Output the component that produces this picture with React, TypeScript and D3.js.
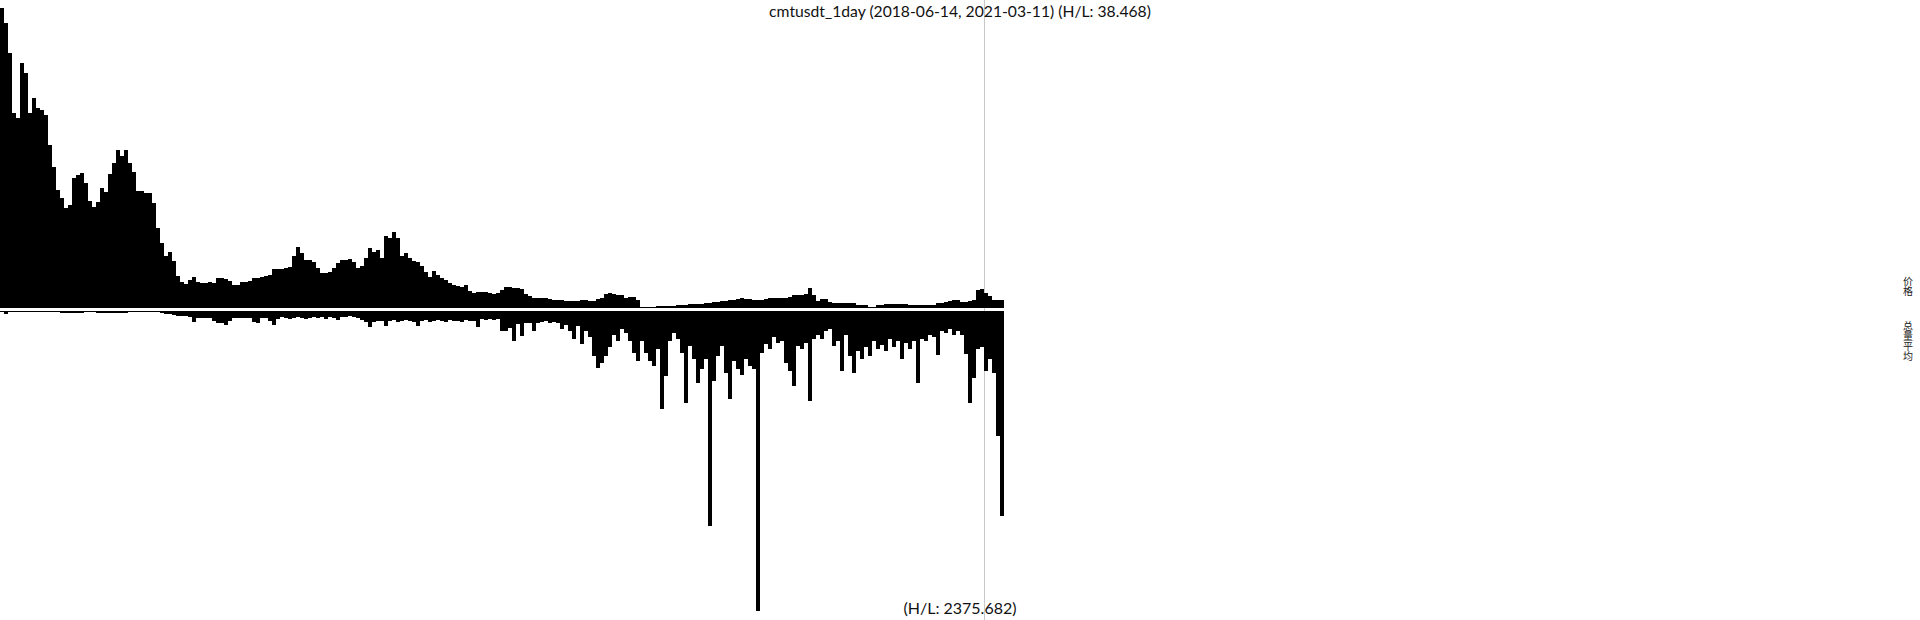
import React, { Component } from 'react';
import * as d3 from 'd3';

const titleText = 'cmtusdt_1day (2018-06-14, 2021-03-11) (H/L: 38.468)';
const volumeText = '(H/L: 2375.682)';
const priceLabel = '价格';
const volumeLabel = '总量平均';

const price = [
  300, 285, 255, 195, 190, 245, 235, 195, 210, 200,
  198, 193, 163, 141, 118, 110, 100, 103, 130, 133,
  135, 125, 107, 101, 106, 120, 116, 134, 145, 158,
  152, 158, 145, 136, 117, 117, 115, 115, 105, 80,
  65, 52, 56, 47, 32, 26, 24, 28, 31, 26,
  25, 25, 26, 25, 30, 30, 29, 27, 23, 23,
  26, 26, 27, 30, 30, 31, 32, 33, 39, 39,
  39, 40, 41, 52, 61, 55, 48, 48, 46, 40,
  35, 35, 36, 40, 45, 48, 48, 49, 46, 40,
  42, 50, 60, 56, 58, 50, 72, 70, 76, 70,
  52, 55, 50, 47, 46, 42, 36, 31, 37, 33,
  30, 28, 25, 23, 22, 21, 23, 17, 15, 16,
  16, 16, 15, 14, 15, 18, 21, 21, 20, 20,
  19, 14, 12, 10, 10, 10, 10, 9, 8, 8,
  8, 7, 7, 7, 7, 8, 8, 7, 7, 9,
  10, 14, 15, 14, 13, 13, 10, 11, 11, 8,
  1, 1, 1.5, 1.5, 2, 2, 2, 2.5, 2.5, 3,
  3, 3.5, 4, 4, 4, 4.5, 5, 5.5, 6, 6.5,
  7, 7, 8, 8, 9, 10, 9, 9, 8, 8,
  8, 9, 10, 10, 10, 10, 10, 11, 13, 13,
  13, 14, 20, 13, 7, 9, 9, 6, 5, 5,
  5, 5, 5, 5, 3.5, 3, 3, 1.5, 1.5, 3,
  3.5, 4, 4, 4, 4, 4, 4, 3.5, 3, 3,
  3, 3, 3, 3, 5, 5, 6, 7, 8, 8,
  6, 6, 7, 8, 18, 19, 15, 12, 8, 8,
  8
];

const volume = [
  1, 2.5, 1, 1, 1, 1, 1, 1, 1, 1,
  1, 1, 1, 1, 1, 2, 1.5, 2, 1.5, 2,
  1.5, 1, 1, 1, 2, 2, 1.5, 2, 2, 1.5,
  2, 2, 1, 1, 1, 1, 1, 1, 1, 1,
  2, 3, 3, 3.5, 4.5, 4.5, 4.5, 6, 11, 7,
  6.5, 6.5, 6.5, 10, 12, 12, 14, 10, 7, 7,
  7, 7, 7, 11, 12, 7, 7, 10, 14, 8,
  6, 7, 8, 7, 6, 7, 8, 6.5, 6, 7,
  6, 8, 6, 7, 9, 5.5, 6, 5, 6, 6.5,
  9, 11, 16, 11, 10, 10, 15, 10, 9, 11,
  10, 9, 10, 11, 15, 10, 9, 11, 10, 9,
  10, 11, 9, 10, 10, 11, 9, 10, 10, 16,
  8, 9, 8, 9, 8, 20, 20, 17, 30, 13,
  25, 12, 12, 20, 12, 11, 10, 12, 11, 12,
  18, 14, 20, 28, 15, 33, 20, 26, 45, 57,
  52, 45, 36, 24, 30, 18, 22, 30, 42, 50,
  30, 42, 50, 55, 38, 98, 65, 30, 22, 28,
  42, 92, 35, 48, 72, 58, 48, 215, 70, 45,
  35, 62, 88, 50, 58, 64, 48, 55, 58, 300,
  42, 33, 38, 26, 32, 30, 52, 60, 75, 35,
  38, 32, 90, 28, 24, 28, 20, 18, 35, 30,
  60, 24, 45, 62, 40, 48, 36, 45, 30, 38,
  34, 40, 28, 36, 30, 48, 32, 38, 30, 72,
  28, 30, 24, 26, 44, 20, 22, 18, 24, 20,
  24, 43, 92, 67, 38, 36, 60, 48, 62, 125,
  205
];

const cursorIndex = 246;

class App extends Component {
  svgRef = React.createRef<SVGSVGElement>();

  componentDidMount() {
    this.draw();
  }

  draw() {
    const width = 1920;
    const height = 620;
    const plotWidth = 1004;
    const priceTop = 8;
    const priceBottom = 308;
    const volTop = 311;
    const volBottom = 611;
    const latin = 'Lato, "Noto Sans", sans-serif';
    const cjk = '"Noto Sans CJK SC", sans-serif';

    const svg = d3.select(this.svgRef.current).attr('width', width).attr('height', height);
    svg.selectAll('*').remove();

    const xScale = d3.scaleBand<number>().domain(price.map((_, i) => i)).range([0, plotWidth]).padding(0);
    const yPrice = d3.scaleLinear().domain([0, d3.max(price) as number]).range([priceBottom, priceTop]);
    const yVol = d3.scaleLinear().domain([0, d3.max(volume) as number]).range([volTop, volBottom]);

    // cursor line sits behind the bars
    const cx = (xScale(cursorIndex) as number) + 0.5;
    svg.append('line')
      .attr('x1', cx)
      .attr('x2', cx)
      .attr('y1', 0)
      .attr('y2', height)
      .attr('stroke', '#c8c8c8')
      .attr('stroke-width', 1);

    svg.append('g').selectAll('rect').data(price)
      .join('rect')
      .attr('x', (d, i) => xScale(i) as number)
      .attr('y', d => yPrice(d))
      .attr('width', xScale.bandwidth())
      .attr('height', d => priceBottom - yPrice(d))
      .attr('fill', '#000')
      .attr('shape-rendering', 'crispEdges');

    svg.append('g').selectAll('rect').data(volume)
      .join('rect')
      .attr('x', (d, i) => xScale(i) as number)
      .attr('y', volTop)
      .attr('width', xScale.bandwidth())
      .attr('height', d => Math.max(1, yVol(d) - volTop))
      .attr('fill', '#000')
      .attr('shape-rendering', 'crispEdges');

    svg.append('text')
      .attr('x', width / 2)
      .attr('y', 17)
      .attr('text-anchor', 'middle')
      .style('font-family', latin)
      .style('font-size', '15.7px')
      .attr('fill', '#111')
      .text(titleText);

    svg.append('text')
      .attr('x', width / 2)
      .attr('y', 614)
      .attr('text-anchor', 'middle')
      .style('font-family', latin)
      .style('font-size', '16px')
      .attr('fill', '#111')
      .text(volumeText);

    // vertical side labels
    [[priceLabel, 276.5], [volumeLabel, 321.5]].forEach(([label, y]) => {
      svg.append('text')
        .attr('x', 1908)
        .attr('y', y as number)
        .style('writing-mode', 'vertical-rl')
        .style('font-family', cjk)
        .style('font-size', '10px')
        .attr('fill', '#222')
        .text(label as string);
    });
  }

  render() {
    return (
      <svg ref={this.svgRef} style={{ position: 'absolute', left: 0, top: 0, display: 'block' }}></svg>
    );
  }
}

export default App;
